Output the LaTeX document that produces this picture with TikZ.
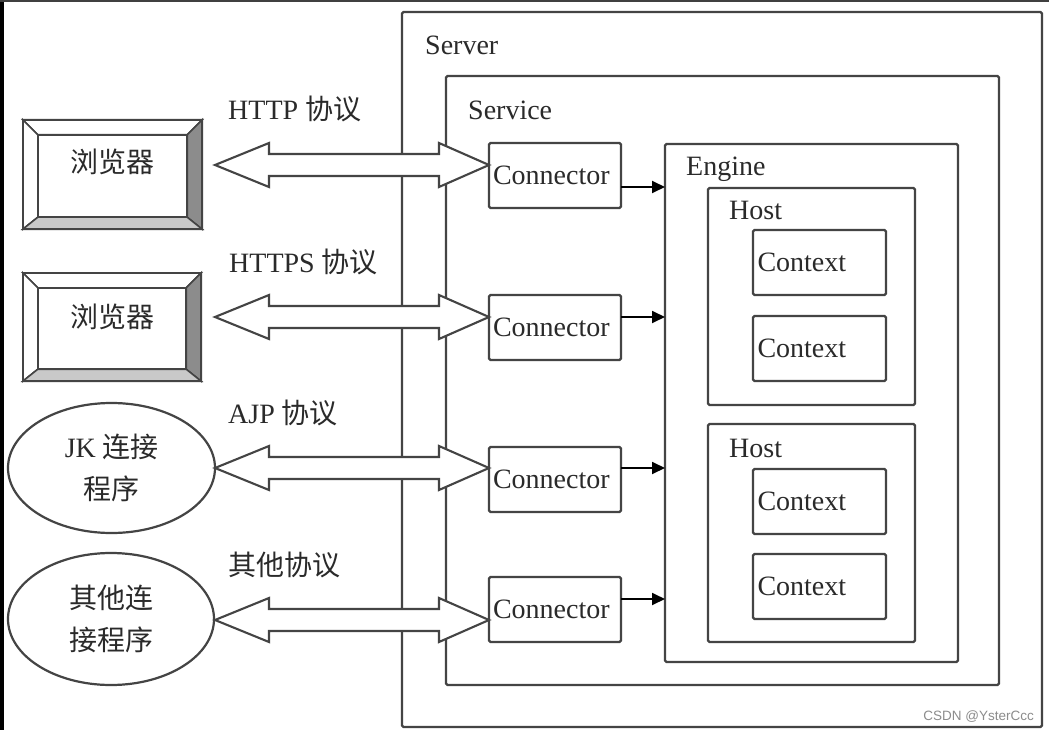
\documentclass[tikz,border=0pt]{standalone}
\usepackage{fontspec}
\setmainfont{Liberation Serif}
\newfontfamily\cjk{Noto Sans CJK SC}
\newfontfamily\wmfont{Liberation Sans}
\usetikzlibrary{shapes.geometric,arrows.meta,calc}
\definecolor{lc}{HTML}{444444}
\definecolor{tc}{HTML}{2A2A2A}
\definecolor{bevdark}{HTML}{8C8C8C}
\definecolor{bevlight}{HTML}{C9C9C9}
\tikzset{
  frame/.style={rectangle, draw=lc, line width=2.3pt, rounded corners=1.5pt, inner sep=0pt, outer sep=0pt},
  cbox/.style={frame, minimum width=132, minimum height=65, text width=124, inner xsep=4pt, align=left, text=tc},
  lbl/.style={anchor=base west, inner sep=0pt, text=tc},
  ctext/.style={inner sep=0pt, text=tc, font=\fontsize{28}{34}\selectfont\cjk},
  oval/.style={ellipse, draw=lc, line width=2.2pt, inner sep=0pt, align=center, text=tc,
               font=\fontsize{28}{42}\selectfont\cjk},
  darr/.style={draw=lc, fill=white, line width=2.1pt, line join=miter},
  flow/.style={draw=black, line width=1.8pt, -{Triangle[length=13pt,width=12pt]}},
  bev/.style={draw=lc, line width=1.6pt, line join=miter}
}
\newcommand\dblarrow[2]{%
  \path[darr] (#1) -- ($(#1)+(54,-22)$) -- ($(#1)+(54,-11)$) -- ($(#2)+(-50,-11)$)
    -- ($(#2)+(-50,-22)$) -- (#2) -- ($(#2)+(-50,22)$) -- ($(#2)+(-50,11)$)
    -- ($(#1)+(54,11)$) -- ($(#1)+(54,22)$) -- cycle;}
\newcommand\bevelbox[1]{%
  \coordinate (#1inw) at ($(#1.north west)+(15,15)$);
  \coordinate (#1ine) at ($(#1.north east)+(-15,15)$);
  \coordinate (#1ise) at ($(#1.south east)+(-15,-12)$);
  \coordinate (#1isw) at ($(#1.south west)+(15,-12)$);
  \path[bev, fill=white] (#1.north west) -- (#1.north east) -- (#1ine) -- (#1inw) -- cycle;
  \path[bev, fill=white] (#1.north west) -- (#1inw) -- (#1isw) -- (#1.south west) -- cycle;
  \path[bev, fill=bevdark] (#1.north east) -- (#1.south east) -- (#1ise) -- (#1ine) -- cycle;
  \path[bev, fill=bevlight] (#1.south west) -- (#1isw) -- (#1ise) -- (#1.south east) -- cycle;
  \draw[bev, line width=2.2pt] (#1inw) rectangle (#1ise);
  \draw[bev, line width=2.4pt] (#1.north west) rectangle (#1.south east);}
\begin{document}
\begin{tikzpicture}[x=1pt, y=-1pt, font=\fontsize{28}{34}\selectfont]
\useasboundingbox (0,0) rectangle (1049,730);
\fill[white] (0,0) rectangle (1049,730);
% outer frame edges of the image
\draw[black, line width=4pt] (2,0) -- (2,730);
\draw[black!75, line width=2pt] (0,1) -- (1049,1);

% containers
\node[frame, anchor=north west, minimum width=640, minimum height=715] (server) at (402,12) {};
\node[frame, anchor=north west, minimum width=553, minimum height=609] (service) at (446,76) {};
\node[frame, anchor=north west, minimum width=293, minimum height=518] (engine) at (665,144) {};
\node[frame, anchor=north west, minimum width=207, minimum height=217] (host1) at (708,188) {};
\node[frame, anchor=north west, minimum width=207, minimum height=218] (host2) at (708,424) {};

\node[lbl] (serverl) at (425,55) {Server};
\node[lbl] (servicel) at (468,120) {Service};
\node[lbl] (enginel) at (686,176) {Engine};
\node[lbl] (host1l) at (729,219) {Host};
\node[lbl] (host2l) at (729,457) {Host};

% contexts
\node[cbox, minimum width=133] (x1) at (819.5,262.5) {Context};
\node[cbox, minimum width=133] (x2) at (819.5,348.5) {Context};
\node[cbox, minimum width=133] (x3) at (819.5,501.5) {Context};
\node[cbox, minimum width=133] (x4) at (819.5,586.5) {Context};

% clients
\node[rectangle, minimum width=179, minimum height=109, inner sep=0pt] (b1) at (112.5,174.5) {};
\node[rectangle, minimum width=178, minimum height=108, inner sep=0pt] (b2) at (112,327) {};
\bevelbox{b1}
\bevelbox{b2}
\node[ctext, anchor=base] (b1t) at (112,173) {浏览器};
\node[ctext, anchor=base] (b2t) at (112,327.5) {浏览器};
\node[oval, minimum width=207, minimum height=130] (e1) at (111.5,468) {{\rmfamily JK} 连接\\程序};
\node[oval, minimum width=206, minimum height=132] (e2) at (111,619) {其他连\\接程序};

% protocol labels
\node[lbl] (p1) at (228,120) {HTTP {\cjk 协议}};
\node[lbl] (p2) at (229,272) {HTTPS {\cjk 协议}};
\node[lbl] (p3) at (228,423) {AJP {\cjk 协议}};
\node[lbl, font=\fontsize{28}{34}\selectfont\cjk] (p4) at (228,575) {其他协议};

% connectors
\node[cbox] (c1) at (555,175.5) {Connector};
\node[cbox] (c2) at (555,327.5) {Connector};
\node[cbox] (c3) at (555,479.5) {Connector};
\node[cbox] (c4) at (555,609.5) {Connector};

% double arrows
\coordinate (a1l) at (215,165);
\coordinate (a2l) at (215,317);
\coordinate (a3l) at (215,468);
\coordinate (a4l) at (215,620);
\coordinate (a1r) at (c1.west |- a1l);
\coordinate (a2r) at (c2.west |- a2l);
\coordinate (a3r) at (c3.west |- a3l);
\coordinate (a4r) at (c4.west |- a4l);
\dblarrow{a1l}{a1r}
\dblarrow{a2l}{a2r}
\dblarrow{a3l}{a3r}
\dblarrow{a4l}{a4r}

% connector -> engine
\coordinate (y1) at (0,187);
\coordinate (y2) at (0,317);
\coordinate (y3) at (0,468);
\coordinate (y4) at (0,599);
\draw[flow] (c1.east |- y1) -- (engine.west |- y1);
\draw[flow] (c2.east |- y2) -- (engine.west |- y2);
\draw[flow] (c3.east |- y3) -- (engine.west |- y3);
\draw[flow] (c4.east |- y4) -- (engine.west |- y4);

% watermark
\node[anchor=base east, inner sep=0pt, text=black!45, font=\fontsize{13.5}{16}\selectfont\wmfont] (wm) at (1034,720) {CSDN @YsterCcc};
\end{tikzpicture}
\end{document}
